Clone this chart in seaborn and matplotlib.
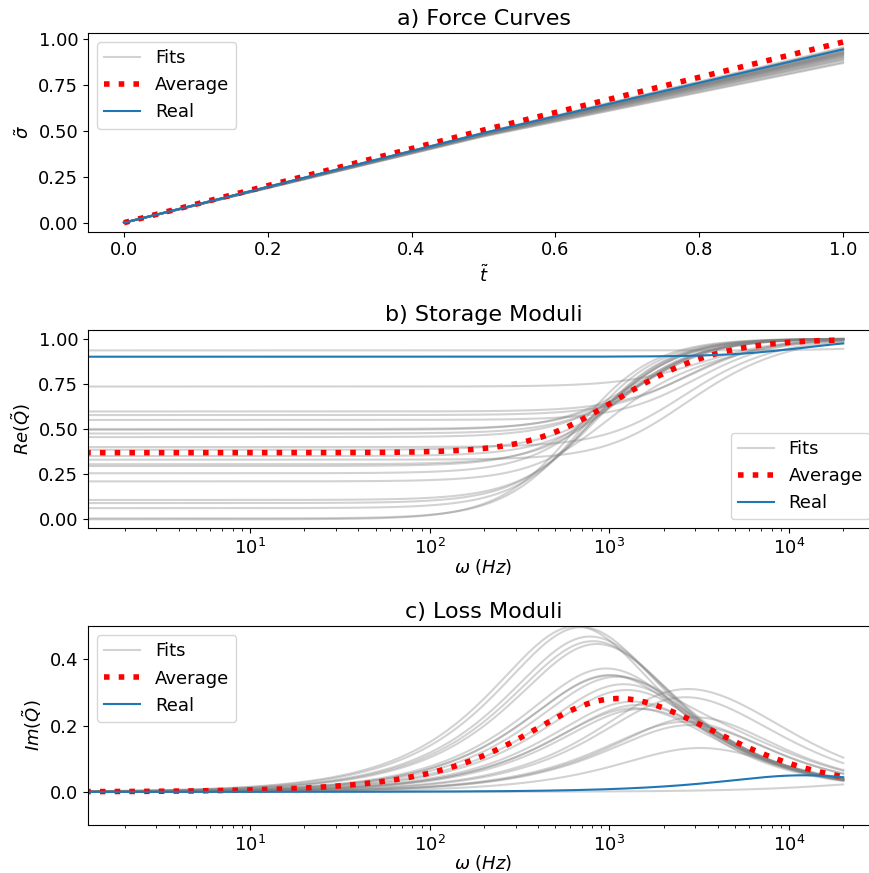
import numpy as np
import pandas as pd
import matplotlib
matplotlib.use("Agg")
import matplotlib.pyplot as plt
import seaborn as sns
from matplotlib.lines import Line2D

# ---- data ----
# each fit: low-frequency plateau of Re(Q), main relaxation frequency (Hz),
# plus an optional second arm (weight, frequency)
fit_plateau = [0.000, 0.005, 0.062, 0.090, 0.107, 0.210, 0.255, 0.295, 0.305, 0.330, 0.350,
               0.385, 0.400, 0.455, 0.475, 0.495, 0.500, 0.550, 0.577, 0.597, 0.735, 0.935]
fit_hz = [650, 700, 780, 810, 850, 950, 960, 1000, 1100, 2300, 1200,
          1250, 2400, 1350, 1450, 1380, 1500, 3000, 2630, 2800, 3200, 50000]
fit_arm2_weight = [0, 0, 0, 0, 0, 0.14, 0, 0, 0, 0.17, 0,
                   0, 0.10, 0, 0, 0, 0, 0, 0, 0, 0, 0]
fit_arm2_hz = [1, 1, 1, 1, 1, 5000, 1, 1, 1, 6000, 1,
               1, 6000, 1, 1, 1, 1, 1, 1, 1, 1, 1]

real_plateau = 0.9
real_hz = 12000

# force curves at t = 0, 0.5, 1
force_t = [0.0, 0.5, 1.0]
fit_force_mid = [0.470, 0.472, 0.475, 0.476, 0.478, 0.479, 0.480, 0.481, 0.482, 0.483, 0.484,
                 0.485, 0.485, 0.486, 0.486, 0.487, 0.487, 0.488, 0.488, 0.489, 0.490, 0.491]
fit_force_end = [0.870, 0.875, 0.885, 0.890, 0.895, 0.900, 0.905, 0.908, 0.912, 0.915, 0.918,
                 0.920, 0.923, 0.925, 0.928, 0.930, 0.933, 0.936, 0.940, 0.945, 0.950, 0.955]
real_force = [0.0, 0.488, 0.945]
avg_force = [0.0, 0.505, 0.985]

omega = np.logspace(0, np.log10(2e4), 400)


def moduli(plateau, hz, w2, hz2):
    w1 = 1 - plateau - w2
    x1 = omega / hz
    x2 = omega / hz2
    re = plateau + w1 * x1**2 / (1 + x1**2) + w2 * x2**2 / (1 + x2**2)
    im = w1 * x1 / (1 + x1**2) + w2 * x2 / (1 + x2**2)
    return re, im


rows = []
for i in range(len(fit_plateau)):
    re, im = moduli(fit_plateau[i], fit_hz[i], fit_arm2_weight[i], fit_arm2_hz[i])
    rows.append(pd.DataFrame({"fit": i, "omega": omega, "re": re, "im": im}))
fits = pd.concat(rows, ignore_index=True)
avg = fits.groupby("omega")[["re", "im"]].mean().reset_index()
real_re, real_im = moduli(real_plateau, real_hz, 0, 1)

force_rows = []
for i in range(len(fit_force_end)):
    force_rows.append(pd.DataFrame({"fit": i, "t": force_t,
                                    "s": [0.0, fit_force_mid[i], fit_force_end[i]]}))
force = pd.concat(force_rows, ignore_index=True)

# ---- figure ----
plt.rcParams["font.size"] = 13
fig, axes = plt.subplots(3, 1, figsize=(8.69, 8.73), dpi=100)
fig.subplots_adjust(left=0.1013, right=1.0115, top=0.9622, bottom=0.055, hspace=0.4925)

fit_kw = dict(color="gray", alpha=0.35, lw=1.5)
avg_kw = dict(color="red", ls=":", lw=4)
real_kw = dict(color="tab:blue", lw=1.5)

handles = [Line2D([], [], **fit_kw), Line2D([], [], **avg_kw), Line2D([], [], **real_kw)]
labels = ["Fits", "Average", "Real"]

# a) force curves
ax = axes[0]
sns.lineplot(data=force, x="t", y="s", units="fit", estimator=None, ax=ax, legend=False, **fit_kw)
sns.lineplot(x=force_t, y=avg_force, ax=ax, **avg_kw)
sns.lineplot(x=force_t, y=real_force, ax=ax, **real_kw)
ax.set_title("a) Force Curves", fontsize=16)
ax.set_xlabel(r"$\tilde{t}$")
ax.set_ylabel(r"$\tilde{\sigma}$")
ax.set_yticks([0, 0.25, 0.5, 0.75, 1.0])
ax.legend(handles, labels, loc="upper left")

# b) storage moduli
ax = axes[1]
sns.lineplot(data=fits, x="omega", y="re", units="fit", estimator=None, ax=ax, legend=False, **fit_kw)
sns.lineplot(data=avg, x="omega", y="re", ax=ax, **avg_kw)
sns.lineplot(x=omega, y=real_re, ax=ax, **real_kw)
ax.set_xscale("log")
ax.set_xlim(10**0.0975, 10**4.5)
ax.set_ylim(-0.05, 1.05)
ax.set_yticks([0, 0.25, 0.5, 0.75, 1.0])
ax.set_title("b) Storage Moduli", fontsize=16)
ax.set_xlabel(r"$\omega\ (Hz)$", labelpad=-1)
ax.set_ylabel(r"$Re(\tilde{Q})$")
ax.legend(handles, labels, loc="lower right")

# c) loss moduli
ax = axes[2]
sns.lineplot(data=fits, x="omega", y="im", units="fit", estimator=None, ax=ax, legend=False, **fit_kw)
sns.lineplot(data=avg, x="omega", y="im", ax=ax, **avg_kw)
sns.lineplot(x=omega, y=real_im, ax=ax, **real_kw)
ax.set_xscale("log")
ax.set_xlim(10**0.0975, 10**4.5)
ax.set_ylim(-0.1, 0.5)
ax.set_yticks([0, 0.2, 0.4])
ax.set_title("c) Loss Moduli", fontsize=16)
ax.set_xlabel(r"$\omega\ (Hz)$", labelpad=-1)
ax.set_ylabel(r"$Im(\tilde{Q})$")
ax.legend(handles, labels, loc="upper left")

fig.savefig("out.png", dpi=100)
